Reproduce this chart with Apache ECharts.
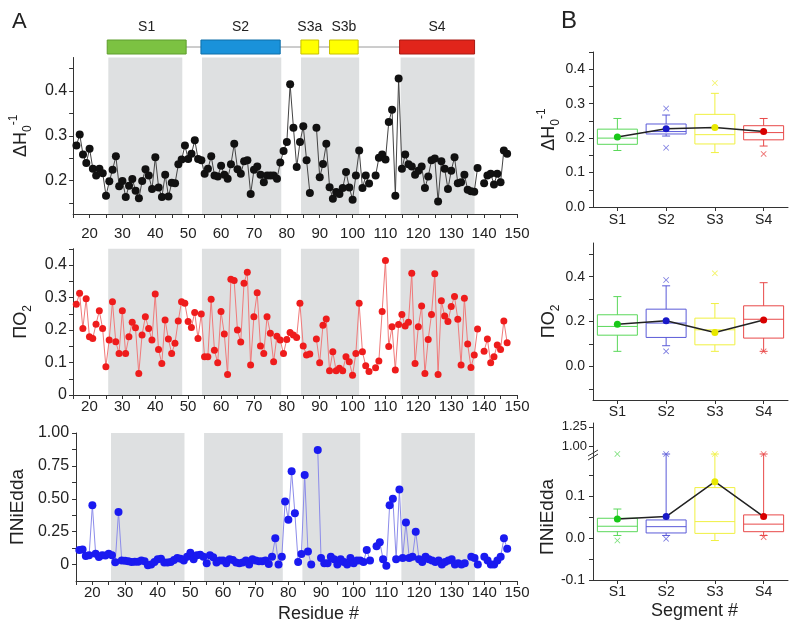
<!DOCTYPE html>
<html><head><meta charset="utf-8">
<script src="https://cdn.jsdelivr.net/npm/echarts@6/dist/echarts.min.js"></script>
<style>html,body{margin:0;padding:0;background:#fff}#c{width:800px;height:633px}</style>
</head><body><div id="c"></div>
<script>
// ---------- DATA ----------
const residues = [16,17,18,19,20,21,22,23,24,25,26,27,28,29,30,31,32,33,34,35,36,37,38,39,40,41,42,43,44,45,46,47,48,49,50,51,52,53,54,55,56,57,58,59,60,61,62,63,64,65,66,67,68,69,70,71,72,73,74,75,76,77,78,79,80,81,82,83,84,85,86,87,88,89,90,91,92,93,94,95,96,97,98,99,100,101,102,103,104,105,106,107,108,109,110,111,112,113,114,115,116,117,118,119,120,121,122,123,124,125,126,127,128,129,130,131,132,133,134,135,136,137,138,139,140,141,142,143,144,145,146,147];
const dH = [0.278,0.303,0.258,0.239,0.271,0.226,0.211,0.226,0.216,0.166,0.198,0.224,0.254,0.187,0.199,0.163,0.188,0.203,0.177,0.160,0.199,0.225,0.211,0.181,0.252,0.184,0.163,0.213,0.164,0.195,0.194,0.236,0.247,0.278,0.248,0.260,0.290,0.248,0.245,0.215,0.226,0.254,0.211,0.209,0.233,0.213,0.204,0.236,0.282,0.225,0.215,0.243,0.245,0.170,0.224,0.231,0.213,0.196,0.211,0.211,0.211,0.204,0.240,0.266,0.286,0.415,0.318,0.230,0.286,0.321,0.245,0.172,null,0.318,0.207,0.237,0.282,0.185,0.159,0.174,0.170,0.183,0.219,0.184,0.157,0.211,0.267,0.183,0.211,0.193,null,0.211,0.251,0.258,0.247,0.331,0.358,0.166,0.428,0.226,0.258,0.236,0.231,0.213,0.222,0.231,0.183,0.209,0.245,0.249,0.153,0.243,0.226,0.181,0.222,0.252,0.194,0.196,0.213,0.179,0.176,0.175,0.228,null,0.194,0.211,0.215,0.191,0.215,0.196,0.267,0.260];
const pO2 = [0.279,0.313,0.205,0.296,0.179,0.174,0.218,0.259,0.205,0.087,0.169,0.287,0.164,0.128,0.259,0.128,0.179,0.224,0.207,0.066,0.185,0.241,0.205,0.169,0.311,0.140,0.097,0.231,0.172,0.128,0.159,0.228,0.287,0.282,0.226,0.208,0.254,0.174,0.249,0.118,0.118,0.295,0.138,0.099,0.257,0.188,0.063,0.356,0.352,0.200,0.163,0.344,0.378,0.092,0.241,0.315,0.151,0.128,0.241,0.190,0.102,0.181,0.169,0.128,0.171,0.192,0.185,0.177,0.282,0.151,0.123,0.126,null,0.172,0.099,0.215,0.234,0.075,0.133,0.075,0.082,0.075,0.118,0.102,0.061,0.128,0.282,0.133,0.090,0.072,null,0.084,0.105,0.257,0.414,0.149,0.210,0.077,0.217,0.248,0.212,0.224,0.375,0.097,0.210,0.274,0.066,0.171,0.248,0.373,0.063,0.290,0.243,0.226,0.272,0.303,0.233,0.092,0.298,0.157,0.085,0.123,0.203,null,0.135,0.172,0.099,0.118,0.154,0.140,0.228,0.161];
const pNi = [0.110,0.115,0.065,0.070,0.450,0.083,0.058,0.071,0.068,0.083,0.071,0.018,0.400,0.030,0.028,0.025,0.020,0.022,0.022,0.030,0.025,-0.005,0.000,0.020,0.040,0.045,0.015,0.015,0.020,0.035,0.050,0.045,0.030,0.060,0.090,0.040,0.070,0.075,0.060,0.010,0.070,0.055,0.015,0.030,0.030,0.010,0.040,0.035,0.015,0.010,0.015,0.030,0.000,0.040,0.030,0.025,0.025,0.030,0.005,0.060,0.200,0.000,0.060,0.480,0.340,0.710,0.390,0.020,0.080,0.680,0.100,0.000,null,0.870,0.050,0.010,0.010,0.060,0.040,0.000,0.040,0.020,0.000,0.050,0.010,0.030,0.030,0.020,0.110,0.030,null,0.140,0.170,0.040,-0.010,0.450,0.500,0.040,0.570,0.050,0.320,0.050,0.060,0.250,0.040,0.020,0.060,0.040,0.030,0.020,0.030,0.000,0.020,0.030,0.040,0.000,0.010,0.000,0.010,null,0.060,0.050,0.000,null,0.060,0.030,0.000,0.000,0.030,0.060,0.200,0.120];

const xTickLabels = [20,30,40,50,60,70,80,90,100,110,120,130,140,150];
const xTicks = [15,20,25,30,35,40,45,50,55,60,65,70,75,80,85,90,95,100,105,110,115,120,125,130,135,140,145,150];

const segNames = ['S1','S2','S3a','S3b','S4'];
const segStart = [25.4,53.9,84.3,93.0,114.3];
const segEnd   = [49.4,78.0,89.7,101.7,137.1];
const bandStart = [25.7,54.2,84.3,114.6];
const bandEnd   = [48.2,78.3,102.0,137.1];

const groups = ['S1','S2','S3','S4'];
// [min, Q1, median, Q3, max]
const dhBox = [[0.164,0.182,0.200,0.226,0.257],[0.206,0.212,0.219,0.241,0.267],[0.158,0.183,0.210,0.269,0.330],[0.177,0.195,0.216,0.236,0.257]];
const dhMean = [0.203,0.227,0.231,0.219];
const dhOut = [['S2',0.286],['S2',0.172],['S3',0.360],['S4',0.154]];
const o2Box = [[0.067,0.139,0.178,0.230,0.311],[0.092,0.129,0.193,0.255,0.359],[0.067,0.096,0.163,0.215,0.280],[0.067,0.126,0.210,0.270,0.373]];
const o2Mean = [0.188,0.203,0.151,0.207];
const o2Out = [['S2',0.385],['S2',0.067],['S3',0.415],['S4',0.067]];
const niBox = [[0.006,0.015,0.028,0.047,0.069],[0.006,0.012,0.027,0.043,0.200],[-0.006,0.011,0.039,0.120,0.200],[0.006,0.015,0.033,0.055,0.200]];
const niMean = [0.045,0.051,0.134,0.051];
const niOut = [['S1',0.200],['S1',-0.006],['S2',0.200],['S2',-0.002],['S3',0.200],['S4',0.200],['S4',0.002]];

// ---------- STYLE ----------
const FF = 'Liberation Sans, Arial, sans-serif';
const AX = '#333';
const boxColors = ['#5ad85a','#5a5ad8','#f0f040','#e84848'];
const meanColors = ['#18c818','#1818c8','#e8e800','#d80000'];
const segFill = ['#7cc242','#1a92da','#ffff00','#ffff00','#e1251b'];
const segBorder = ['#5f9e2e','#0e6fa8','#c8c000','#c8c000','#a81a14'];

const chart = echarts.init(document.getElementById('c'), null, {renderer:'canvas'});

function pts(vals){ return residues.map((r,i)=> vals[i]===null ? [r,'-'] : [r, vals[i]]); }
function bands(){ return bandStart.map((s,i)=>[{xAxis:s},{xAxis:bandEnd[i]}]); }
function range(a,b,s){ const o=[]; for(let v=a; v<=b+1e-9; v+=s) o.push(Math.round(v*1000)/1000); return o; }

function leftX(gi, margin, extra){
  return Object.assign({type:'value', gridIndex:gi, min:15, max:150,
    axisLine:{show:true,onZero:false,lineStyle:{color:AX}},
    axisTick:{show:true,customValues:xTicks,length:4,lineStyle:{color:AX}},
    axisLabel:{show:true,customValues:xTickLabels,margin:margin,fontSize:15,color:'#222',fontFamily:FF},
    splitLine:{show:false}}, extra||{});
}
function yAx(gi, min, max, labels, ticks, fmt, margin, fs, extra){
  return Object.assign({type:'value', gridIndex:gi, min:min, max:max,
    axisLine:{show:true,onZero:false,lineStyle:{color:AX}},
    axisTick:{show:true,customValues:ticks,length:4,lineStyle:{color:AX}},
    axisLabel:{customValues:labels,formatter:fmt,margin:margin,fontSize:fs,color:'#222',fontFamily:FF},
    splitLine:{show:false}}, extra||{});
}
function catX(gi, margin, show, extra){
  return Object.assign({type:'category', gridIndex:gi, data:groups, show:show, boundaryGap:true,
    axisLine:{show:true,onZero:false,lineStyle:{color:AX}},
    axisTick:{show:true,alignWithLabel:true,length:4,lineStyle:{color:AX}},
    axisLabel:{margin:margin,fontSize:14,color:'#222',fontFamily:FF},
    splitLine:{show:false}}, extra||{});
}
const f1 = v => v.toFixed(1);
const f0 = v => Math.abs(v)<1e-9 ? '0' : v.toFixed(1);
const f2 = v => Math.abs(v)<1e-9 ? '0' : v.toFixed(2);

const richDH = {m:{fontSize:18,lineHeight:26,verticalAlign:'middle',fontFamily:FF,color:'#222'},
                s:{fontSize:12,lineHeight:12,verticalAlign:'bottom',fontFamily:FF,color:'#222'},
                p:{fontSize:12,lineHeight:12,verticalAlign:'top',fontFamily:FF,color:'#222'}};
const nameDH = '{m|ΔH}{s|0}{p|-1}';
const nameO2 = '{m|ΠO}{s|2}';

function boxRender(params, api){
  const i = api.value(0);
  const lo = api.coord([i, api.value(1)]), q1 = api.coord([i, api.value(2)]),
        md = api.coord([i, api.value(3)]), q3 = api.coord([i, api.value(4)]),
        hi = api.coord([i, api.value(5)]);
  const bw = api.size([1,0])[0]*0.82, cw = 8, x = lo[0];
  const st = {stroke:boxColors[i], fill:'transparent', lineWidth:1};
  return {type:'group', children:[
    {type:'rect', shape:{x:x-bw/2,y:q3[1],width:bw,height:q1[1]-q3[1]}, style:st},
    {type:'line', shape:{x1:x-bw/2,y1:md[1],x2:x+bw/2,y2:md[1]}, style:st},
    {type:'line', shape:{x1:x,y1:q3[1],x2:x,y2:hi[1]}, style:st},
    {type:'line', shape:{x1:x,y1:q1[1],x2:x,y2:lo[1]}, style:st},
    {type:'line', shape:{x1:x-cw/2,y1:hi[1],x2:x+cw/2,y2:hi[1]}, style:st},
    {type:'line', shape:{x1:x-cw/2,y1:lo[1],x2:x+cw/2,y2:lo[1]}, style:st}
  ]};
}
const xSym = 'path://M1,0L5,4L9,0L10,1L6,5L10,9L9,10L5,6L1,10L0,9L4,5L0,1Z';
function boxSeries(gx, gy, box, mean, out){
  return [
    {type:'custom', xAxisIndex:gx, yAxisIndex:gy, renderItem:boxRender,
     data: box.map((b,i)=>[i].concat(b)), encode:{x:0,y:[1,2,3,4,5]}, z:2, silent:true},
    {type:'scatter', xAxisIndex:gx, yAxisIndex:gy, symbol:xSym, symbolSize:6,
     data: out.map(o=>({value:o, itemStyle:{color:boxColors[groups.indexOf(o[0])]}})), z:3, silent:true},
    {type:'line', xAxisIndex:gx, yAxisIndex:gy, symbol:'circle', symbolSize:7,
     lineStyle:{color:'#222',width:1.5},
     data: mean.map((v,i)=>({value:v, itemStyle:{color:meanColors[i]}})), z:4, silent:true}
  ];
}
function leftLine(gi, vals, dot, line, size){
  return {type:'line', xAxisIndex:gi, yAxisIndex:gi, data:pts(vals), symbol:'circle', symbolSize:size,
    showAllSymbol:true, connectNulls:false, itemStyle:{color:dot}, lineStyle:{color:line,width:1},
    markArea:{silent:true, itemStyle:{color:'#dee0e1'}, data:bands()}, z:3};
}

const option = {
  animation:false,
  backgroundColor:'#fff',
  title:[
    {text:'A', left:7, top:6, textStyle:{fontSize:22,fontWeight:'normal',fontFamily:FF,color:'#222'}},
    {text:'B', left:556, top:4, textStyle:{fontSize:24,fontWeight:'normal',fontFamily:FF,color:'#222'}}
  ],
  grid:[
    {left:73, width:444, top:40, height:14},
    {left:73, width:444, top:57.5, height:156.5},
    {left:73, width:444, top:248.75, height:146.25},
    {left:73, width:444, top:433, height:148},
    {left:593, width:195, top:52, height:155},
    {left:593, width:195, top:243, height:157},
    {left:593, width:195, top:423, height:31},
    {left:593, width:195, top:454, height:126}
  ],
  xAxis:[
    {type:'value', gridIndex:0, min:15, max:150, show:false},
    leftX(1, 12),
    leftX(2, 4),
    leftX(3, 4, {name:'Residue #', nameLocation:'middle', nameGap:24,
      nameTextStyle:{fontSize:18,color:'#222',fontFamily:FF,padding:[0,0,0,44]}}),
    catX(4, 6, true),
    catX(5, 5, true),
    catX(6, 5, false),
    catX(7, 5, true, {name:'Segment #', nameLocation:'middle', nameGap:22,
      nameTextStyle:{fontSize:18,color:'#222',fontFamily:FF,padding:[0,0,0,8]}})
  ],
  yAxis:[
    {type:'value', gridIndex:0, min:0, max:1, show:false},
    yAx(1, 0.125, 0.475, [0.2,0.3,0.4], range(0.15,0.45,0.05), f1, 6, 16,
      {name:nameDH, nameLocation:'middle', nameGap:34, nameTextStyle:{rich:richDH}}),
    yAx(2, 0, 0.45, [0,0.1,0.2,0.3,0.4], range(0,0.45,0.05), f0, 6, 16,
      {name:nameO2, nameLocation:'middle', nameGap:34, nameTextStyle:{rich:richDH}}),
    yAx(3, -0.125, 1.0, [0,0.25,0.5,0.75,1.0], range(0,1,0.125), f2, 7, 16,
      {name:'ΠNiEdda', nameLocation:'middle', nameGap:40, nameTextStyle:{fontSize:19,color:'#222',fontFamily:FF}}),
    yAx(4, 0, 0.45, [0,0.1,0.2,0.3,0.4], range(0,0.45,0.05), f1, 8, 14,
      {name:nameDH, nameLocation:'middle', nameGap:28, nameTextStyle:{rich:richDH}}),
    yAx(5, -0.15, 0.55, [0,0.2,0.4], range(-0.1,0.5,0.1), f1, 8, 14,
      {name:nameO2, nameLocation:'middle', nameGap:30, nameTextStyle:{rich:richDH}}),
    yAx(6, 0.9, 1.3, [1.0,1.25], [1.0,1.25], v=>v.toFixed(2), 6, 13),
    yAx(7, -0.1, 0.2, [-0.1,0,0.1], range(-0.1,0.15,0.05), f1, 8, 14,
      {name:'ΠNiEdda', nameLocation:'middle', nameGap:34, nameTextStyle:{fontSize:19,color:'#222',fontFamily:FF}})
  ],
  graphic:[
    {type:'line', shape:{x1:588,y1:456,x2:598,y2:450}, style:{stroke:'#333',lineWidth:1}, z:100},
    {type:'line', shape:{x1:588,y1:460,x2:598,y2:454}, style:{stroke:'#333',lineWidth:1}, z:100}
  ],
  series:[
    {type:'line', xAxisIndex:0, yAxisIndex:0, data:[[segStart[0],0.5],[segEnd[segEnd.length-1],0.5]],
     symbol:'none', lineStyle:{color:'#9a9a9a',width:1}, z:1, silent:true},
    {type:'custom', xAxisIndex:0, yAxisIndex:0, z:2, silent:true,
     data: segNames.map((n,i)=>[segStart[i], segEnd[i], i]),
     renderItem:function(params, api){
       const a = api.coord([api.value(0),1]), b = api.coord([api.value(1),0]);
       const i = api.value(2);
       return {type:'group', children:[
         {type:'rect', shape:{x:a[0],y:a[1],width:b[0]-a[0],height:b[1]-a[1]},
          style:{fill:segFill[i],stroke:segBorder[i],lineWidth:1}},
         {type:'text', style:{text:segNames[i], x:(a[0]+b[0])/2, y:a[1]-6, align:'center', verticalAlign:'bottom',
          fontSize:14, fontFamily:FF, fill:'#222'}}
       ]};
     }},
    leftLine(1, dH, '#111', '#444', 8),
    leftLine(2, pO2, '#ee1c1c', '#f07a7a', 7),
    leftLine(3, pNi, '#1a1af0', '#8c8cea', 8)
  ].concat(boxSeries(4,4,dhBox,dhMean,dhOut))
   .concat(boxSeries(5,5,o2Box,o2Mean,o2Out))
   .concat(boxSeries(7,7,niBox,niMean,niOut))
};
chart.setOption(option);
</script>
</body></html>
